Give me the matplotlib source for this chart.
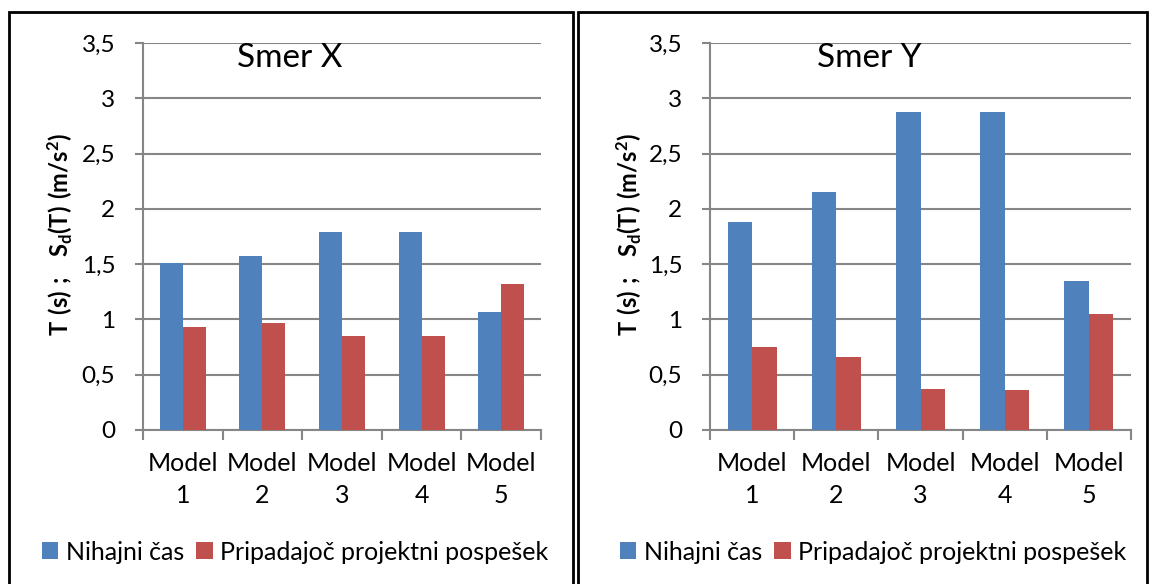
import matplotlib.pyplot as plt
import numpy as np
from matplotlib.patches import Rectangle

plt.rcParams['font.family'] = ['Lato', 'DejaVu Sans']
plt.rcParams['mathtext.fontset'] = 'custom'
plt.rcParams['mathtext.rm'] = 'Lato'
plt.rcParams['mathtext.bf'] = 'Lato:bold'

modeli = ['Model\n1', 'Model\n2', 'Model\n3', 'Model\n4', 'Model\n5']
nihajni_x = [1.51, 1.57, 1.79, 1.79, 1.07]
pospesek_x = [0.93, 0.97, 0.85, 0.85, 1.32]
nihajni_y = [1.88, 2.15, 2.88, 2.88, 1.35]
pospesek_y = [0.75, 0.66, 0.37, 0.36, 1.05]
y_ticks = [0, 0.5, 1, 1.5, 2, 2.5, 3, 3.5]
y_tick_labels = ['0', '0,5', '1', '1,5', '2', '2,5', '3', '3,5']

W, H = 1149, 584
fig = plt.figure(figsize=(W / 100, H / 100), dpi=100)

blue = '#4F81BD'
red = '#C0504D'
grid = '#868686'


def panel(x0, x1, frame, title, title_x, ylab_x, nihajni, pospesek, leg_x):
    ax = fig.add_axes([x0 / W, (H - 430) / H, (x1 - x0) / W, 387 / H])
    x = np.arange(1, len(modeli) + 1)
    w = 0.29
    b1 = ax.bar(x - w / 2, nihajni, w, color=blue, zorder=3, label='Nihajni čas')
    b2 = ax.bar(x + w / 2, pospesek, w, color=red, zorder=3,
                label='Pripadajoč projektni pospešek')
    ax.set_xlim(0.5, len(modeli) + 0.5)
    ax.set_ylim(0, 3.5)
    ax.set_yticks(y_ticks)
    ax.set_yticklabels(y_tick_labels)
    ax.set_xticks(x)
    ax.set_xticklabels(modeli, linespacing=1.45)
    ax.set_xticks(np.arange(0.5, len(modeli) + 1), minor=True)
    ax.tick_params(axis='x', which='major', length=0, pad=16, labelsize=18)
    ax.tick_params(axis='x', which='minor', length=7, width=1.5, color=grid, direction='out')
    ax.tick_params(axis='y', length=6, width=1.5, color=grid, pad=14, labelsize=17.5)
    ax.grid(axis='y', color=grid, linewidth=1.5, zorder=0)
    for s in ['top', 'right']:
        ax.spines[s].set_visible(False)
    for s in ['left', 'bottom']:
        ax.spines[s].set_color(grid)
        ax.spines[s].set_linewidth(1.5)
    fig.text(title_x / W, 1 - 58 / H, title, fontsize=24, ha='center', va='center')
    fig.text(ylab_x / W, 1 - 234 / H,
             r'$\mathbf{T\ (s)\ ;\ \ S_d(T)\ (m/s^2)}$',
             fontsize=17, rotation=90, ha='center', va='center')
    fig.legend(handles=[b1, b2], loc='center', bbox_to_anchor=(leg_x / W, 1 - 552 / H),
               ncol=2, frameon=False, fontsize=18, handlelength=0.65, handleheight=0.65,
               handletextpad=0.3, columnspacing=0.5, borderaxespad=0)
    fig.patches.append(Rectangle((frame[0] / W, -0.01), (frame[1] - frame[0]) / W,
                                 1 - 12 / H + 0.01, transform=fig.transFigure,
                                 fill=False, edgecolor='black', linewidth=2))
    return ax


panel(143, 541, (9, 573), 'Smer X', 290, 60, nihajni_x, pospesek_x, 295)
panel(710, 1131, (578, 1147), 'Smer Y', 869, 629, nihajni_y, pospesek_y, 873)

fig.savefig('out.png', dpi=100)
